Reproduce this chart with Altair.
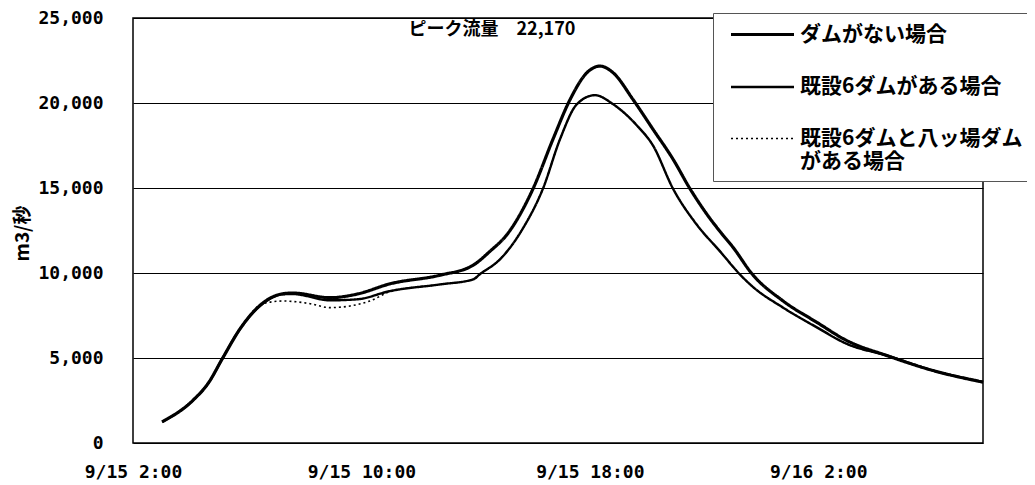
import altair as alt
import pandas as pd

# ---------------- data ----------------
series_names = ["ダムがない場合", "既設6ダムがある場合", "既設6ダムと八ッ場ダムがある場合"]

# hours counted from 9/15 0:00
hours_no_dam = [3.02, 4.10, 4.63, 5.15, 5.75, 6.55, 7.25, 7.60, 8.90, 9.85, 11.00, 12.75,
                13.91, 14.50, 15.10, 16.01, 16.71, 17.31, 17.90, 18.36, 18.81, 19.51,
                20.21, 20.91, 21.51, 22.21, 22.56, 23.02, 23.68, 24.77, 25.96, 27.01,
                28.41, 30.02, 31.77]
flow_no_dam = [1244, 2512, 3505, 5023, 6717, 8236, 8779, 8820, 8546, 8762, 9363, 9871,
               10455, 11273, 12266, 14953, 17873, 20210, 21787, 22170, 21787, 20210,
               18458, 16705, 14953, 13201, 12441, 11500, 9950, 8353, 7087, 6016,
               5140, 4264, 3583]

hours_six_dams = [3.02, 4.10, 4.63, 5.15, 5.75, 6.55, 7.25, 7.60, 8.90, 9.85, 11.00, 12.75,
                  13.91, 14.15, 14.85, 15.66, 16.36, 16.96, 17.55, 18.18, 18.81, 19.65,
                  20.21, 20.91, 21.75, 22.56, 23.26, 23.68, 24.77, 25.96, 27.01, 28.41,
                  30.02, 31.77]
flow_six_dams = [1244, 2512, 3505, 5023, 6717, 8200, 8750, 8760, 8393, 8452, 8937, 9328,
                 9620, 9930, 10800, 12634, 14971, 17891, 19936, 20461, 19936, 18674,
                 17505, 14971, 12833, 11273, 9910, 9229, 7961, 6793, 5823, 5140,
                 4264, 3583]

hours_yamba = [3.02, 4.10, 4.63, 5.15, 5.75, 6.55, 7.25, 8.20, 8.90, 9.60, 10.30, 11.00,
               12.75, 13.91, 14.15, 14.85, 15.66, 16.36, 16.96, 17.55, 18.18, 18.81,
               19.65, 20.21, 20.91, 21.75, 22.56, 23.26, 23.68, 24.77, 25.96, 27.01,
               28.41, 30.02, 31.77]
flow_yamba = [1244, 2512, 3505, 5023, 6717, 8200, 8353, 8196, 7963, 8060, 8353, 8900,
              9328, 9620, 9930, 10800, 12634, 14971, 17891, 19936, 20461, 19936,
              18674, 17505, 14971, 12833, 11273, 9910, 9229, 7961, 6793, 5823,
              5140, 4264, 3583]

tick_hours = [2, 10, 18, 26]
tick_labels = ["9/15 2:00", "9/15 10:00", "9/15 18:00", "9/16 2:00"]
y_ticks = [0, 5000, 10000, 15000, 20000, 25000]

peak_hour = [14.57]
peak_pos = [24300]
peak_text = ["ピーク流量　22,170"]

# ---------------- tables ----------------
df_a = pd.DataFrame({"hour": hours_no_dam, "flow": flow_no_dam, "series": series_names[0]})
df_b = pd.DataFrame({"hour": hours_six_dams, "flow": flow_six_dams, "series": series_names[1]})
df_c = pd.DataFrame({"hour": hours_yamba, "flow": flow_yamba, "series": series_names[2]})
df_t = pd.DataFrame({"hour": peak_hour, "flow": peak_pos, "label": peak_text})

x_label_expr = " : ".join(
    [f"datum.value == {h} ? '{t}'" for h, t in zip(tick_hours, tick_labels)]
) + " : ''"

legend_label_expr = (
    f"datum.label == '{series_names[2]}' ? ['既設6ダムと八ッ場ダム', 'がある場合'] : datum.label"
)

JP = "Noto Sans CJK JP"
MONO = "DejaVu Sans Mono"

x_enc = alt.X(
    "hour:Q",
    scale=alt.Scale(domain=[2, 31.77], nice=False, zero=False),
    axis=alt.Axis(values=tick_hours, labelExpr=x_label_expr, title=None, grid=False,
                  ticks=False, domain=False, labelFont=MONO, labelFontSize=18,
                  labelFontWeight="bold", labelColor="black", labelPadding=20,
                  labelFlush=False, labelOverlap=False),
)
y_enc = alt.Y(
    "flow:Q",
    scale=alt.Scale(domain=[0, 25000], nice=False),
    axis=alt.Axis(values=y_ticks, labelExpr="format(datum.value, ',.0f')", title="m3/秒",
                  grid=True, gridColor="black", gridWidth=1, gridOpacity=1, ticks=False,
                  domain=False, labelFont=MONO, labelFontSize=18, labelFontWeight="bold",
                  labelColor="black", labelPadding=30, titleX=-111, titleY=215,
                  titleAngle=270, titleAlign="center", titleBaseline="middle",
                  titleFont=JP, titleFontSize=19, titleFontWeight="bold",
                  titleColor="black"),
)

legend = alt.Legend(
    title=None, orient="none", legendX=580, legendY=-5, direction="vertical",
    symbolType="M-3,0H3", symbolSize=441, symbolStrokeColor="black", symbolOffset=28,
    labelOffset=25, labelFont=JP, labelFontSize=21, labelFontWeight="bold",
    labelColor="black", labelLimit=400, rowPadding=30, padding=9,
    fillColor="white", strokeColor="#555", labelExpr=legend_label_expr,
)

dash_enc = alt.StrokeDash(
    "series:N",
    scale=alt.Scale(domain=series_names, range=[[1, 0], [1, 0], [2, 3]]),
    legend=legend,
)
width_enc = alt.StrokeWidth(
    "series:N",
    scale=alt.Scale(domain=series_names, range=[3.2, 1.6, 2.2]),
    legend=legend,
)


def line_layer(df):
    return alt.Chart(df).mark_line(color="black", interpolate="monotone").encode(
        x=x_enc, y=y_enc, strokeDash=dash_enc, strokeWidth=width_enc
    )


text_layer = alt.Chart(df_t).mark_text(
    font=JP, fontSize=18, fontWeight="bold", align="center", baseline="middle", color="black"
).encode(x=x_enc, y=y_enc, text="label:N")

chart = alt.layer(
    line_layer(df_c), line_layer(df_b), line_layer(df_a), text_layer
).properties(
    width=850,
    height=425,
    padding={"left": 125, "top": 10, "right": 44, "bottom": 42},
    autosize=alt.AutoSizeParams(type="none"),
    background="white",
).configure_view(stroke="black", strokeWidth=1.5)

chart.save("out.html", embed_options={"renderer": "svg", "actions": False})
